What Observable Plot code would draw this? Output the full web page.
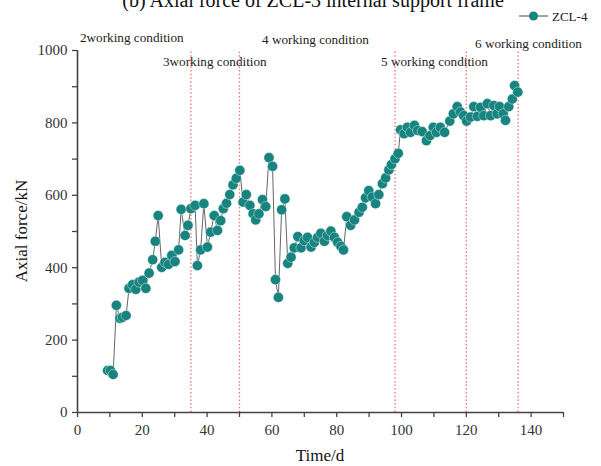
<!DOCTYPE html>
<html><head><meta charset="utf-8">
<script src="https://cdn.jsdelivr.net/npm/d3@7"></script>
<script src="https://cdn.jsdelivr.net/npm/@observablehq/plot@0.6"></script>
<style>
html,body{margin:0;padding:0;background:#fff;}
#chart{width:601px;height:466px;overflow:hidden;}
svg, svg text{font-family:"Liberation Serif","DejaVu Serif",serif !important;}
</style></head>
<body><div id="chart"></div>
<script>
const days = [9.3,10.2,11,12,13.1,13.9,15,15.9,17,18,19,20.1,21.1,22.1,23.2,24,24.9,26,27,28.1,29.1,30.1,31.2,32,33.2,34.1,35,36.3,37,38,39,40.1,41.1,42.2,43.2,44.2,45,46,47,48,49,50.1,51.1,52.1,53.2,54.2,55,56,57.1,58.1,59.1,60.2,61.1,62,63,64,64.9,65.9,66.9,68,69,70,71,72.1,73.1,74.1,75.1,76.2,77.2,78.2,79.3,80.3,81.3,82.1,83.1,84.3,85.5,86.9,87.9,88.9,89.9,91,92,93,94.1,95.1,96.1,96.9,98,99,99.7,100.8,101.8,102.8,104,105,106.4,107.7,108.8,109.8,110.8,112,113.3,114.9,116,117.2,118.2,119.2,120.1,121.3,122.3,123.4,124.4,125.4,126.5,127.5,128.5,129.5,130.3,131.4,132.1,133.1,134.2,134.9,135.9];
const force = [116,116,105,296,260,263,268,343,353,340,360,365,343,385,422,473,544,401,415,409,434,417,449,561,489,517,563,572,406,449,577,457,498,544,503,530,563,578,602,629,647,669,581,602,572,549,532,549,588,569,704,680,367,318,560,590,412,429,455,486,455,475,484,457,470,484,495,473,489,501,484,470,459,449,541,517,532,553,567,593,613,595,577,602,632,648,670,685,701,716,781,770,788,774,793,779,776,751,765,788,774,788,774,805,825,845,830,820,805,816,845,818,843,820,853,820,848,825,845,825,807,845,866,903,885];
const boundaries = [35,50,98,120,136];
const conditionLabels = ["2working condition","3working condition","4 working condition","5 working condition","6 working condition"];
const seriesName = "ZCL-4";
const titleText = "(b) Axial force of ZCL-3 internal support frame";
const xTicks = [0,20,40,60,80,100,120,140];
const yTicks = [0,200,400,600,800,1000];

const data = days.map((d,i)=>({day:d, force:force[i]}));
const teal = "#17847f";
const serif = "Liberation Serif, serif";

const plot = Plot.plot({
  width:601, height:466,
  marginLeft:77, marginRight:38, marginTop:50, marginBottom:54,
  style:{fontFamily:serif, fontSize:"15px", color:"#222", background:"#fff"},
  x:{domain:[0,150], label:null},
  y:{domain:[0,1000], label:null},
  marks:[
    Plot.ruleX(boundaries,{x:d=>d, y1:0, y2:1000, stroke:"#f07272", strokeWidth:1.3, strokeDasharray:"1.5,2.2"}),
    Plot.axisX({ticks:d3.range(0,151,10), tickSize:5, tickFormat:()=>"", label:null, stroke:"#444", strokeWidth:1.3}),
    Plot.axisX({ticks:xTicks, tickSize:0, tickPadding:12, label:null, fontSize:15, fontFamily:serif, fill:"#333", tickFormat:d3.format("d")}),
    Plot.axisY({ticks:d3.range(0,1001,100), tickSize:5, tickFormat:()=>"", label:null, stroke:"#444", strokeWidth:1.3}),
    Plot.axisY({ticks:yTicks, tickSize:0, tickPadding:10, label:null, fontSize:15, fontFamily:serif, fill:"#333", tickFormat:d3.format("d")}),
    Plot.ruleY([0],{x1:0,x2:150, stroke:"#444", strokeWidth:1.6}),
    Plot.ruleX([0],{y1:0,y2:1000, stroke:"#444", strokeWidth:1.6}),
    Plot.line(data,{x:"day", y:"force", stroke:"#666", strokeWidth:1}),
    Plot.dot(data,{x:"day", y:"force", r:5.1, fill:teal, stroke:"#fff", strokeWidth:0.4})
  ]
});
document.getElementById("chart").appendChild(plot);

const svg = d3.select(plot);
svg.append("text").attr("x",313).attr("y",7).attr("text-anchor","middle")
  .attr("font-size",20).attr("fill","#111").text(titleText);
svg.append("text").attr("x",320).attr("y",461).attr("text-anchor","middle")
  .attr("font-size",17).attr("fill","#111").text("Time/d");
svg.append("text").attr("transform","translate(27,231) rotate(-90)").attr("text-anchor","middle")
  .attr("font-size",17).attr("fill","#111").text("Axial force/kN");
const labelPos = [[80,42],[163,66],[262,44],[381,66],[475,48]];
conditionLabels.forEach((t,i)=>{
  svg.append("text").attr("x",labelPos[i][0]).attr("y",labelPos[i][1]).attr("text-anchor","start")
    .attr("font-size",13.2).attr("fill","#222").text(t);
});
const lg = svg.append("g");
lg.append("line").attr("x1",519).attr("x2",548).attr("y1",16).attr("y2",16).attr("stroke","#666").attr("stroke-width",1.2);
lg.append("circle").attr("cx",533.5).attr("cy",16).attr("r",4.5).attr("fill",teal);
lg.append("text").attr("x",552).attr("y",20.5).attr("text-anchor","start").attr("font-size",13).attr("fill","#222").text(seriesName);
</script></body></html>
